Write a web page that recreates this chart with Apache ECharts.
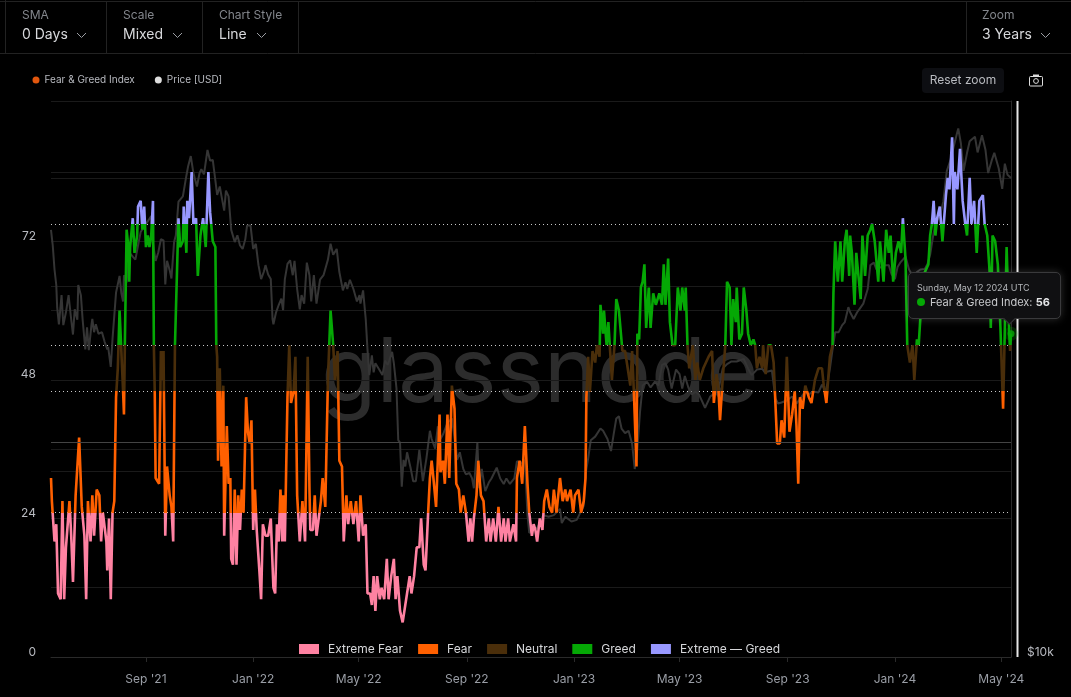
<!DOCTYPE html>
<html><head><meta charset="utf-8">
<style>html,body{margin:0;padding:0;background:#000;overflow:hidden}#c{width:1071px;height:697px}</style>
<script src="https://cdn.jsdelivr.net/npm/echarts@6/dist/echarts.min.js"></script>
</head><body><div id="c"></div>
<script>
const startDate = Date.UTC(2021,4,16);
// [days since start, Fear & Greed Index]
const fngReadings = [[0,31],[1,27],[3,27],[4,20],[6,23],[8,11],[11,10],[13,27],[15,10],[17,19],[21,27],[23,21],[25,13],[27,13],[28,28],[32,38],[35,26],[38,21],[40,10],[42,27],[45,20],[47,28],[49,21],[52,29],[55,28],[57,20],[59,25],[63,20],[64,15],[66,24],[68,10],[70,25],[72,27],[74,45],[76,50],[78,60],[80,60],[82,46],[83,42],[84,54],[86,74],[88,71],[89,65],[90,71],[93,76],[95,70],[98,73],[99,78],[102,79],[104,74],[106,78],[108,71],[110,73],[112,71],[114,73],[116,79],[117,54],[118,46],[119,31],[121,31],[123,30],[125,53],[127,48],[128,53],[130,21],[132,33],[135,28],[137,26],[139,20],[141,54],[143,54],[145,76],[147,71],[150,72],[151,78],[154,70],[155,79],[157,76],[160,84],[162,75],[165,76],[167,66],[170,73],[173,76],[176,71],[179,84],[181,77],
[184,72],[187,71],[188,54],[189,52],[190,34],[192,50],[194,33],[196,47],[197,21],[200,40],[202,30],[204,31],[205,17],[207,16],[209,29],[211,16],[213,28],[215,22],[217,29],[219,25],[222,45],[224,39],[226,37],[228,41],[230,22],[232,29],[234,22],[237,15],[239,10],[241,23],[244,21],[247,21],[250,24],[252,24],[253,12],[255,11],[257,23],[259,20],[261,29],[263,20],[264,28],[266,20],[269,45],[271,54],[273,44],[276,46],[278,52],[280,28],[283,20],[286,27],[289,20],[292,52],[294,29],[295,22],[298,22],[300,28],[302,21],[304,21],[307,27],[309,31],[312,26],[315,48],[318,60],[321,54],[323,48],[326,53],[328,34],[331,33],[333,20],[336,28],[338,23],[341,27],[344,23],[347,27],[350,20],[352,28],[355,21],[358,23],[360,11],
[363,11],[365,9],[367,14],[369,8],[371,14],[374,10],[376,12],[379,10],[382,17],[384,10],[387,14],[390,17],[392,10],[394,14],[397,8],[400,6],[403,9],[405,11],[408,14],[410,11],[413,14],[416,19],[419,19],[421,24],[424,16],[426,15],[429,25],[431,31],[433,34],[435,31],[438,26],[442,42],[443,32],[446,34],[448,30],[451,42],[453,31],[456,47],[459,43],[461,30],[464,29],[466,25],[469,28],[472,25],[475,20],[477,24],[479,20],[481,24],[484,28],[486,34],[489,28],[492,27],[495,20],[498,24],[500,20],[503,24],[506,20],[509,26],[512,20],[515,24],[517,20],[520,24],[522,20],[526,23],[529,20],[530,31],[533,34],[536,30],[539,40],[542,30],[544,25],
[547,21],[549,23],[551,22],[553,20],[556,24],[559,22],[561,27],[564,29],[567,26],[570,25],[572,29],[575,25],[579,31],[582,27],[585,29],[587,27],[591,29],[594,25],[596,28],[600,29],[603,25],[606,27],[608,31],[609,45],[611,52],[613,46],[616,53],[619,51],[621,54],[624,52],[625,61],[628,56],[629,60],[632,54],[634,58],[636,53],[638,48],[641,54],[643,62],[646,60],[648,60],[650,53],[653,53],[656,50],[659,47],[661,53],[663,46],[666,33],[667,56],[669,55],[671,64],[673,65],[675,68],[677,57],[680,64],[682,57],[685,63],[688,61],[692,63],[695,61],[697,68],[699,61],[702,69],[704,58],[707,54],[710,54],[713,64],[716,60],[718,64],[721,60],[722,64],[724,54],[726,50],
[727,51],[730,54],[733,48],[735,51],[738,48],[742,50],[745,51],[748,52],[752,53],[754,44],[757,49],[759,47],[761,41],[764,48],[767,54],[769,65],[772,64],[774,54],[776,62],[779,58],[780,64],[783,55],[786,56],[788,64],[791,60],[793,56],[796,54],[799,55],[801,54],[803,50],[806,52],[809,50],[810,54],[813,49],[816,54],[819,54],[822,51],[824,44],[826,37],[829,37],[831,41],[834,38],[837,52],[840,39],[843,42],[846,46],[848,40],[850,30],[852,45],[855,43],[858,47],[862,45],[865,44],[869,48],[873,50],[877,50],[879,47],[882,44],[884,48],[886,52],[889,54],[890,63],[892,72],[895,65],[898,72],[900,65],[903,72],[905,74],[908,66],
[909,73],[911,70],[914,61],[916,70],[918,70],[921,62],[923,73],[926,66],[929,73],[932,74],[934,75],[937,72],[941,65],[943,72],[947,65],[950,74],[953,70],[955,73],[958,65],[961,70],[964,72],[967,70],[969,76],[972,69],[974,54],[977,51],[980,54],[982,48],[985,55],[987,54],[989,59],[992,66],[998,68],[1000,73],[1002,75],[1004,79],[1006,73],[1008,76],[1011,78],[1014,72],[1016,76],[1018,80],[1020,83],[1022,81],[1025,90],[1027,75],[1028,84],[1031,81],[1034,88],[1037,79],[1040,75],[1042,73],[1045,83],[1047,75],[1050,79],[1053,70],[1056,79],[1060,80],[1062,75],[1065,73],[1068,66],[1069,57],[1071,73],[1074,72],[1077,68],[1080,57],[1082,57],[1083,43],[1085,57],[1087,71],[1090,56],[1091,53],[1092,56]];
// [days since start, price USD]
const priceReadings = [[0,49400],[2,46600],[4,42600],[6,40200],[7,37000],[9,34700],[12,38700],[14,34600],[17,36300],[20,38700],[23,35300],[25,33400],[27,36700],[30,35300],[31,40200],[34,38700],[36,35300],[39,31600],[41,34300],[43,31500],[46,34600],[47,35400],[49,33700],[51,34700],[54,33500],[58,33700],[61,32500],[64,31600],[65,31900],[68,29600],[70,32900],[74,39100],[78,41600],[80,39000],[82,37800],[83,41700],[86,40600],[89,45400],[93,44700],[96,44200],[99,46600],[102,49000],[108,50500],[114,52000],[116,47000],[119,44000],[122,45400],[125,47700],[128,47500],[130,40300],[132,44000],[135,42500],[137,41200],[140,47200],[142,48400],[145,54900],[150,56000],[154,60500],[156,62700],[159,65100],[162,61100],[166,58100],[169,61100],[171,62000],[174,60800],[178,66600],[181,64000],
[184,64200],[187,59400],[189,56300],[192,58100],[194,56000],[197,53100],[199,57200],[202,56000],[205,49400],[207,49700],[209,47200],[212,48400],[215,46600],[218,46000],[221,47700],[223,50200],[227,50200],[230,46000],[233,46900],[236,43300],[239,41100],[242,42200],[244,43300],[247,41800],[250,41100],[252,35400],[253,34700],[256,36300],[259,37300],[262,38200],[264,36600],[266,41100],[269,43500],[272,44100],[275,41700],[277,44000],[280,39600],[283,36700],[285,38700],[288,37500],[291,43700],[294,41700],[296,37800],[299,41700],[302,37500],[306,41000],[310,41700],[315,44200],[318,46900],[321,45000],[325,46000],[328,42200],[332,39400],[335,40600],[337,39600],[340,41000],[344,39600],[348,37800],[351,38700],[352,37500],[355,39400],[358,35400],[360,31600],[362,28700],
[365,30900],[367,29000],[369,30000],[371,29800],[374,29200],[377,28700],[380,30300],[383,29800],[388,31300],[390,30000],[393,27300],[395,22500],[397,22300],[399,18900],[401,20900],[403,20400],[405,21500],[409,20300],[412,19300],[415,19300],[419,21700],[423,19300],[427,21000],[431,23300],[433,22600],[437,21800],[440,23700],[443,22600],[446,23000],[451,24000],[456,24400],[460,22200],[462,20900],[465,21500],[469,20200],[472,19800],[476,19900],[479,19500],[481,18800],[485,22300],[487,18800],[490,20200],[494,18600],[498,19200],[501,19500],[507,20300],[511,19500],[515,19100],[518,19500],[522,19100],[527,19500],[530,20800],[534,20600],[539,20900],[542,17000],[544,15900],[549,16200],[553,16200],[556,16500],
[560,17000],[566,16900],[572,17000],[579,17400],[581,16500],[585,16900],[592,16600],[598,16700],[606,17600],[608,19800],[611,21000],[614,22500],[619,22800],[625,23500],[628,23300],[633,22600],[637,21600],[640,23000],[643,24400],[646,24600],[649,23500],[653,23100],[657,23300],[661,22200],[664,20200],[667,21800],[670,25000],[673,27600],[678,28000],[682,27400],[687,28000],[691,27600],[695,29800],[699,30000],[702,29300],[706,27300],[711,29300],[715,28800],[718,27300],[721,28600],[725,27400],[729,26700],[733,27000],[737,26700],
[744,25400],[750,26500],[755,26800],[759,27000],[764,29400],[769,29900],[774,30200],[780,30200],[788,30500],[793,29400],[797,28700],[803,29300],[809,29400],[812,29000],[820,29200],[824,26300],[827,25800],[831,25900],[837,26100],[843,26500],[848,25800],[854,26500],[858,27000],[862,26700],[867,27000],[873,26900],[877,27700],[881,27000],[883,27700],[886,29400],[889,31600],[892,33700],[896,33700],[900,34600],[903,35000],[907,37000],
[909,36300],[913,35400],[917,36300],[920,36800],[924,37500],[929,39600],[932,43300],[936,43700],[939,42600],[943,42900],[949,43300],[953,43300],[956,41900],[960,41100],[963,43000],[966,43700],[972,44700],[976,42600],[981,41400],[985,42200],[989,42600],[994,42700],[997,43500],[1000,45000],[1004,48900],[1008,51200],[1011,52000],[1015,54900],[1019,61600],[1023,64000],[1027,67600],[1030,70400],[1032,72200],[1035,68300],[1038,61600],[1042,65900],[1045,68800],[1051,70000],[1054,66000],[1059,70400],[1063,66600],[1066,61100],[1070,64000],[1073,65900],[1078,62200],[1082,57600],[1085,63300],[1088,60700],[1092,60000]];
const bandNames = ['Extreme Fear','Fear','Neutral','Greed','Extreme — Greed'];
const bandEdges = [0,25,46,54,75,100];
const bandColors = ['#ff82a2','#ff6000','#4a2e0a','#05a805','#9898ff'];
const thresholds = [25,46,54,75];
const indexLabels = [0,24,48,72];
const indexGrid = [0,12,24,36,48,60,72,84];
const priceGrid = [20000,40000,60000,80000];
const priceRefLine = 22300;
const monthTicks = ['2021-09-01','2022-01-01','2022-05-01','2022-09-01','2023-01-01','2023-05-01','2023-09-01','2024-01-01','2024-05-01'];
const monthNames = ['Jan','Feb','Mar','Apr','May','Jun','Jul','Aug','Sep','Oct','Nov','Dec'];
const tipDay = 1092, tipValue = 56;

const toTime = d => startDate + d*864e5;
const fngData = fngReadings.map(r=>[toTime(r[0]),r[1]]);
const priceData = priceReadings.map(r=>[toTime(r[0]),r[1]]);
const tickTimes = monthTicks.map(s=>Date.parse(s+'T00:00:00Z'));
const UI = 'Inter, "Noto Sans", sans-serif';

function txt(x,y,t,size,color,extra){return Object.assign({type:'text',silent:true,style:{x,y,text:t,font:`${size}px ${UI}`,fill:color,textVerticalAlign:'middle'}},extra||{});}
function rule(x1,y1,x2,y2,color,w){return {type:'line',silent:true,shape:{x1,y1,x2,y2},style:{stroke:color,lineWidth:w||1}};}
function chev(x,y){return {type:'polyline',silent:true,shape:{points:[[x,y],[x+4.5,y+4.5],[x+9,y]]},style:{stroke:'#9a9da3',fill:null,lineWidth:1}};}
const chrome = [
 rule(0,1.5,1071,1.5,'#222'),rule(5.5,0,5.5,53,'#222'),rule(0,53.5,1071,53.5,'#222'),
 rule(106.5,1,106.5,53,'#222'),rule(202.5,1,202.5,53,'#222'),rule(298.5,1,298.5,53,'#222'),rule(966.5,1,966.5,53,'#222'),
 txt(22,15,'SMA',12,'#83868c'),txt(22,35,'0 Days',14,'#d8d9dc'),chev(77,33),
 txt(123,15,'Scale',12,'#83868c'),txt(123,35,'Mixed',14,'#d8d9dc'),chev(173,33),
 txt(219,15,'Chart Style',12,'#83868c'),txt(219,35,'Line',14,'#d8d9dc'),chev(257,33),
 txt(982,15,'Zoom',12,'#83868c'),txt(982,35,'3 Years',14,'#d8d9dc'),chev(1041,33),
 {type:'rect',silent:true,shape:{x:922,y:68,width:82,height:25,r:4},style:{fill:'#0d0e12'}},
 txt(963,80,'Reset zoom',12,'#b9bbc0',{style:{x:963,y:80,text:'Reset zoom',font:`12px ${UI}`,fill:'#b9bbc0',textAlign:'center',textVerticalAlign:'middle'}}),
 {type:'rect',silent:true,shape:{x:1029.5,y:76.5,width:13,height:9.5,r:1},style:{stroke:'#ddd',fill:null,lineWidth:1}},
 {type:'rect',silent:true,shape:{x:1033,y:74.5,width:6,height:2},style:{fill:'#ddd'}},
 {type:'circle',silent:true,shape:{cx:1036,cy:81,r:2.4},style:{stroke:'#ddd',fill:null,lineWidth:1}},
 rule(1017.5,101,1017.5,657,'#e6e6e6',2),
 {type:'text',silent:true,z:-1,style:{x:540,y:375,text:'glassnode',font:`90px Inter, sans-serif`,fill:'#2c2c2c',textAlign:'center',textVerticalAlign:'middle'}}
];

const chart = echarts.init(document.getElementById('c'),null,{width:1071,height:697,renderer:'canvas'});
chart.setOption({
 animation:false,useUTC:true,backgroundColor:'#000',
 textStyle:{fontFamily:UI},
 grid:{left:51,right:60,top:101,bottom:40,containLabel:false},
 legend:{left:27.5,top:70,itemWidth:7,itemHeight:7,itemGap:20,icon:'circle',selectedMode:false,
   data:['Fear & Greed Index','Price [USD]'],textStyle:{color:'#b8bac0',fontSize:10,fontFamily:UI},
   },
 xAxis:{type:'value',min:toTime(0),max:toTime(1092),
   axisLine:{onZero:false,lineStyle:{color:'#2a2a2a'}},splitLine:{show:false},
   axisTick:{show:true,length:5,lineStyle:{color:'#2a2a2a'},customValues:tickTimes},
   axisLabel:{color:'#9a9ea6',fontSize:12,margin:16,hideOverlap:false,customValues:tickTimes,
     formatter:v=>{const d=new Date(v);return monthNames[d.getUTCMonth()]+" '"+String(d.getUTCFullYear()).slice(2);}}},
 yAxis:[
  {type:'value',min:0,max:96.3,position:'left',
   axisLine:{show:false},axisTick:{show:false,customValues:indexGrid},
   splitLine:{show:true,lineStyle:{color:'#1a1a1a',width:1}},
   axisLabel:{color:'#b8bac0',fontSize:12,margin:15,align:'right',verticalAlign:'bottom',customValues:indexLabels,lineHeight:10}},
  {type:'log',logBase:10,min:10000,max:80000,position:'right',
   axisLine:{show:true,lineStyle:{color:'#2a2a2a'}},axisTick:{show:false,customValues:priceGrid},
   splitLine:{show:true,lineStyle:{color:'#1a1a1a',width:1}},
   axisLabel:{color:'#b8bac0',fontSize:12,margin:16,align:'left',verticalAlign:'bottom',lineHeight:10,customValues:[10000],formatter:v=>'$'+Math.round(v/1000)+'k'}}
 ],
 visualMap:{type:'piecewise',seriesIndex:0,dimension:1,orient:'horizontal',left:284,top:628,itemWidth:20,itemHeight:10,itemGap:15,itemSymbol:'rect',textGap:9,selectedMode:false,
   align:'left',hoverLink:false,
   textStyle:{color:'#d6d7da',fontSize:12,fontFamily:UI},
   pieces:bandNames.map((n,i)=>({min:bandEdges[i],max:bandEdges[i+1],label:n,color:bandColors[i]}))},
 tooltip:{trigger:'item',triggerOn:'none',alwaysShowContent:true,transitionDuration:0,position:[908,272],padding:0,borderWidth:0,backgroundColor:'transparent',
   extraCssText:'box-shadow:none;',
   formatter:()=>`<div style="position:relative;box-sizing:border-box;width:153px;height:47px;background:#101012;border:1px solid #3a3a3c;border-radius:5px;box-shadow:0 0 8px rgba(255,255,255,.18);padding:9px 8px;font-family:${UI.replace(/"/g,"'")};white-space:nowrap">
   <div style="font-size:9px;line-height:11px;color:#b4b6ba">Sunday, May 12 2024 UTC</div>
   <div style="font-size:11px;line-height:14px;margin-top:2px;color:#c8c9cc"><span style="display:inline-block;width:8px;height:8px;border-radius:50%;background:#05a805;margin-right:5px"></span>Fear &amp; Greed Index: <b style="color:#e4e5e7">56</b></div>
   <div style="position:absolute;left:96px;bottom:-5px;width:8px;height:8px;background:#101012;transform:rotate(45deg);border-right:1px solid #3a3a3c;border-bottom:1px solid #3a3a3c"></div></div>`},
 graphic:{elements:chrome},
 series:[
  {name:'Fear & Greed Index',type:'line',yAxisIndex:0,z:4,data:fngData,showSymbol:false,symbol:'none',sampling:'none',
   itemStyle:{color:'#e2570e'},lineStyle:{width:2.6,join:'bevel'},emphasis:{disabled:true},silent:true,
   markLine:{silent:true,symbol:'none',precision:2,label:{show:false},animation:false,z:3,
     lineStyle:{color:'#c9c9c9',type:[1,3],width:1},data:thresholds.map(v=>({yAxis:v}))}},
  {name:'Price [USD]',type:'line',yAxisIndex:1,z:3,data:priceData,showSymbol:false,symbol:'none',
   itemStyle:{color:'#dedede'},lineStyle:{color:'#353535',width:2},emphasis:{disabled:true},silent:true,
   markLine:{silent:true,symbol:'none',label:{show:false},animation:false,
     lineStyle:{color:'#444',type:'solid',width:1},data:[{yAxis:priceRefLine}]}},
  {name:'Selected',type:'scatter',yAxisIndex:0,z:6,clip:false,data:[[toTime(tipDay),tipValue]],symbolSize:7,
   itemStyle:{color:'#05a805',borderColor:'rgba(5,168,5,0.28)',borderWidth:7},emphasis:{disabled:true}}
 ]
});
chart.dispatchAction({type:'showTip',seriesIndex:2,dataIndex:0});
</script></body></html>
